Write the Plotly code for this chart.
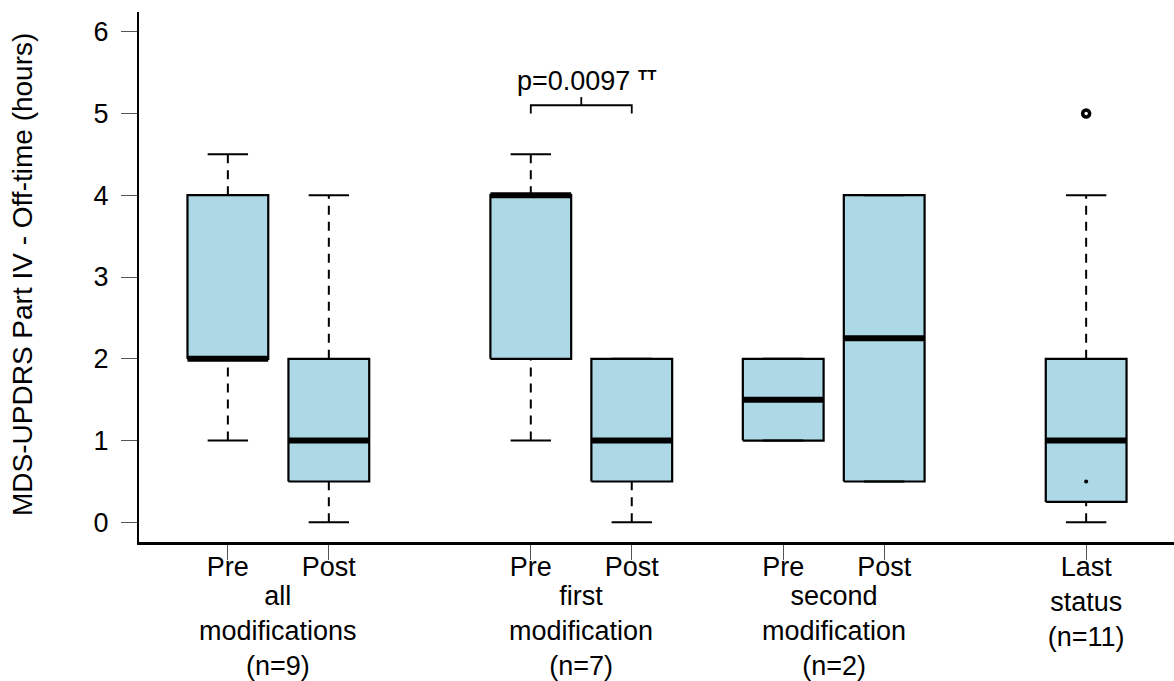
import plotly.graph_objects as go

# ---- data ----
positions = [1, 2, 4, 5, 6.5, 7.5, 9.5]
tick_labels = ["Pre", "Post", "Pre", "Post", "Pre", "Post", "Last<br>status<br>(n=11)"]
lower_whisker = [1, 0, 1, 0, 1, 0.5, 0]
q1 = [2, 0.5, 2, 0.5, 1, 0.5, 0.25]
median = [2, 1, 4, 1, 1.5, 2.25, 1]
q3 = [4, 2, 4, 2, 2, 4, 2]
upper_whisker = [4.5, 4, 4.5, 2, 2, 4, 4]
outlier_x = [9.5]
outlier_y = [5]
extra_point_x = [9.5]
extra_point_y = [0.5]
group_centers = [1.5, 4.5, 7]
group_labels = ["all<br>modifications<br>(n=9)",
                "first<br>modification<br>(n=7)",
                "second<br>modification<br>(n=2)"]
sig_pair = [4, 5]
sig_levels = [5.0, 5.1, 5.2]
sig_text = "p=0.0097"
sig_mark = "TT"

# ---- style ----
BOX_W = 0.8
CAP_W = 0.4
FILL = "#ADD8E6"
FONT = "Liberation Sans, Arial, sans-serif"
FS = 27

fig = go.Figure()

# boxes
for x, a, b in zip(positions, q1, q3):
    h = BOX_W / 2
    fig.add_trace(go.Scatter(
        x=[x - h, x + h, x + h, x - h, x - h],
        y=[a, a, b, b, a],
        mode="lines", fill="toself", fillcolor=FILL,
        line=dict(color="black", width=2.2), showlegend=False, hoverinfo="skip"))

# whiskers (dashed)
wx, wy = [], []
for x, lo, a, b, hi in zip(positions, lower_whisker, q1, q3, upper_whisker):
    wx += [x, x, None, x, x, None]
    wy += [b, hi, None, lo, a, None]
fig.add_trace(go.Scatter(x=wx, y=wy, mode="lines",
                         line=dict(color="black", width=2, dash="9px,7px"),
                         showlegend=False, hoverinfo="skip"))

# caps
cx, cy = [], []
for x, lo, hi in zip(positions, lower_whisker, upper_whisker):
    cx += [x - CAP_W / 2, x + CAP_W / 2, None, x - CAP_W / 2, x + CAP_W / 2, None]
    cy += [hi, hi, None, lo, lo, None]
fig.add_trace(go.Scatter(x=cx, y=cy, mode="lines",
                         line=dict(color="black", width=2),
                         showlegend=False, hoverinfo="skip"))

# medians
mx, my = [], []
for x, m in zip(positions, median):
    mx += [x - BOX_W / 2, x + BOX_W / 2, None]
    my += [m, m, None]
fig.add_trace(go.Scatter(x=mx, y=my, mode="lines",
                         line=dict(color="black", width=6),
                         showlegend=False, hoverinfo="skip"))

# outliers and extra points
fig.add_trace(go.Scatter(x=outlier_x, y=outlier_y, mode="markers",
                         marker=dict(symbol="circle-open", size=7, color="black",
                                     line=dict(width=3.5, color="black")),
                         showlegend=False, hoverinfo="skip"))
fig.add_trace(go.Scatter(x=extra_point_x, y=extra_point_y, mode="markers",
                         marker=dict(symbol="circle", size=4, color="black"),
                         showlegend=False, hoverinfo="skip"))

# significance bracket
lo_s, mid_s, hi_s = sig_levels
xa, xb = sig_pair
xm = (xa + xb) / 2
fig.add_trace(go.Scatter(
    x=[xa, xa, xb, xb, None, xm, xm],
    y=[lo_s, mid_s, mid_s, lo_s, None, mid_s, hi_s],
    mode="lines", line=dict(color="black", width=1.8),
    showlegend=False, hoverinfo="skip"))

annotations = []
annotations.append(dict(x=xm, y=5.4, xref="x", yref="y", text=sig_text,
                        showarrow=False, xanchor="center", yanchor="middle",
                        xshift=-8, font=dict(family=FONT, size=FS, color="black")))
annotations.append(dict(x=xm, y=5.47, xref="x", yref="y", text="<b>" + sig_mark + "</b>",
                        showarrow=False, xanchor="center", yanchor="middle",
                        xshift=66, font=dict(family=FONT, size=15, color="black")))
for gx, gl in zip(group_centers, group_labels):
    annotations.append(dict(x=gx, y=0, xref="x", yref="paper", text=gl,
                            showarrow=False, xanchor="center", yanchor="middle",
                            yshift=-89, font=dict(family=FONT, size=FS, color="black")))

fig.update_layout(
    width=1174, height=681,
    margin=dict(l=139, r=0, t=12, b=139),
    paper_bgcolor="white", plot_bgcolor="white",
    font=dict(family=FONT, size=FS, color="black"),
    showlegend=False,
    annotations=annotations,
    xaxis=dict(range=[0.12, 10.37], tickmode="array", tickvals=positions,
               ticktext=tick_labels, showgrid=False, zeroline=False,
               showline=True, linecolor="black", linewidth=2.5,
               ticks="outside", ticklen=15, tickwidth=1, tickcolor="#555",
               ticklabelstandoff=-16,
               tickfont=dict(family=FONT, size=FS, color="black")),
    yaxis=dict(range=[-0.24, 6.24], tickmode="array", tickvals=[0, 1, 2, 3, 4, 5, 6],
               showgrid=False, zeroline=False,
               showline=True, linecolor="black", linewidth=2,
               ticks="outside", ticklen=16, tickwidth=1, tickcolor="#555",
               ticklabelstandoff=7,
               tickfont=dict(family=FONT, size=FS, color="black")),
)
fig.add_annotation(
    x=-(139 - 22) / 1035, y=0.5, xref="paper", yref="paper",
    text="MDS-UPDRS Part IV - Off-time (hours)", textangle=-90,
    showarrow=False, xanchor="center", yanchor="middle", yshift=2,
    font=dict(family=FONT, size=28, color="black"))

fig.write_html("out.html")
